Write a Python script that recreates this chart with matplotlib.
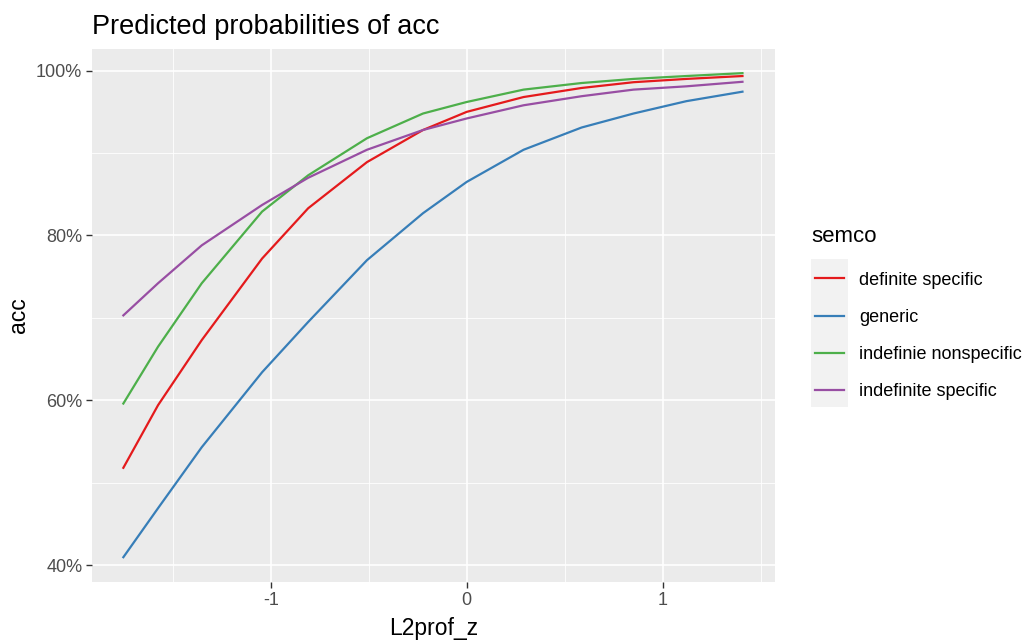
import numpy as np
import matplotlib
matplotlib.use("Agg")
import matplotlib.pyplot as plt
from matplotlib.ticker import FuncFormatter, MultipleLocator
from matplotlib.patches import Rectangle

# predicted values
l2prof_z = [-1.752, -1.575, -1.352, -1.044, -0.809, -0.509, -0.223, 0.0,
            0.29, 0.586, 0.851, 1.121, 1.407]
semco = ["definite specific", "generic", "indefinie nonspecific", "indefinite specific"]
acc_definite_specific = [51.8, 59.4, 67.3, 77.2, 83.3, 88.9, 92.8, 95.0,
                         96.8, 97.9, 98.6, 99.0, 99.35]
acc_generic = [40.95, 46.9, 54.3, 63.4, 69.5, 77.0, 82.7, 86.5,
               90.4, 93.1, 94.8, 96.3, 97.45]
acc_indef_nonspecific = [59.6, 66.5, 74.2, 82.9, 87.3, 91.8, 94.8, 96.2,
                         97.7, 98.5, 99.0, 99.35, 99.7]
acc_indef_specific = [70.3, 74.2, 78.8, 83.7, 87.0, 90.4, 92.8, 94.2,
                      95.8, 96.9, 97.7, 98.1, 98.65]

series = [acc_definite_specific, acc_generic, acc_indef_nonspecific, acc_indef_specific]
colors = ["#E41A1C", "#377EB8", "#4DAF4A", "#984EA3"]

plt.rcParams['font.family'] = ['Liberation Sans', 'DejaVu Sans']

W, H = 1028, 643
fig = plt.figure(figsize=(W / 100, H / 100), dpi=100)
ax = fig.add_axes([92 / W, 1 - 582 / H, (775 - 92) / W, (582 - 49) / H])
ax.set_facecolor("#EBEBEB")

# grey legend key block (ggplot style)
fig.patches.append(Rectangle((811 / W, 1 - 407 / H), 37 / W, 148 / H,
                             transform=fig.transFigure, facecolor="#F2F2F2",
                             edgecolor="none", zorder=-1))

for vals, c, nm in zip(series, colors, semco):
    ax.plot(l2prof_z, vals, color=c, lw=1.6, label=nm, zorder=3)

ax.set_xlim(-1.912, 1.573)
ax.set_ylim(37.94, 102.63)
ax.xaxis.set_major_locator(MultipleLocator(1))
ax.xaxis.set_minor_locator(MultipleLocator(0.5))
ax.yaxis.set_major_locator(MultipleLocator(20))
ax.yaxis.set_minor_locator(MultipleLocator(10))
ax.yaxis.set_major_formatter(FuncFormatter(lambda v, p: "%d%%" % v))
ax.xaxis.set_major_formatter(FuncFormatter(lambda v, p: "%d" % v))
ax.grid(which="major", color="white", lw=1.2, zorder=0)
ax.grid(which="minor", color="white", lw=0.6, zorder=0)
ax.set_axisbelow(True)
for s in ax.spines.values():
    s.set_visible(False)
ax.tick_params(which="major", length=4, width=1, color="#333333",
               labelcolor="#4D4D4D", labelsize=13, pad=3)
ax.tick_params(which="minor", length=0)

ax.set_xlabel("L2prof_z", fontsize=16.5, labelpad=6)
ax.set_ylabel("acc", fontsize=16.5, labelpad=4)
ax.set_title("Predicted probabilities of acc", fontsize=19.5, loc="left", pad=11)

fig.text(811 / W, 1 - 236 / H, "semco", fontsize=16, va="center", ha="left")
leg = ax.legend(loc="upper left", bbox_to_anchor=(802 / W, 1 - 259 / H),
                bbox_transform=fig.transFigure, frameon=False,
                fontsize=13, handlelength=1.6, labelspacing=1.12,
                handletextpad=0.85, borderpad=0.2)

fig.savefig("out.png", dpi=100)
